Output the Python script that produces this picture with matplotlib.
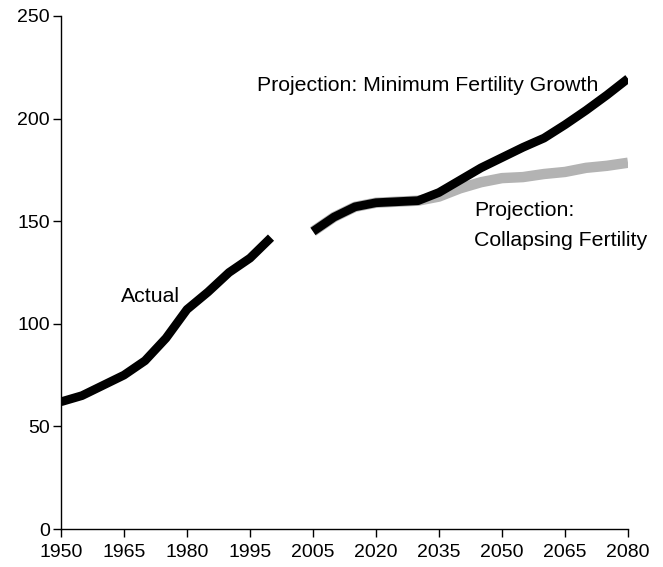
import numpy as np
import matplotlib.pyplot as plt

plt.rcParams["font.family"] = ["Liberation Sans", "DejaVu Sans"]
plt.rcParams["font.size"] = 14

# categorical x axis: 5-year steps, with one empty slot between 2000 and 2005
categories = ["1950", "1955", "1960", "1965", "1970", "1975", "1980", "1985",
              "1990", "1995", "2000", "", "2005", "2010", "2015", "2020",
              "2025", "2030", "2035", "2040", "2045", "2050", "2055", "2060",
              "2065", "2070", "2075", "2080"]

actual = [62, 65, 70, 75, 82, 93, 107, 115.5, 125, 132, 142]
minimum_growth = [145, 152, 157, 159, 159.5, 160, 164, 170, 176, 181, 186,
                  190.5, 197, 204, 211.5, 219.5]
collapsing = [145, 152, 157, 159, 159.5, 160, 162, 166, 169, 171, 171.5,
              173, 174, 176, 177, 178.5]

x = np.arange(len(categories))
n_act = len(actual)
n_proj = len(minimum_growth)
y_act = np.full(len(categories), np.nan)
y_act[:n_act] = actual
y_min = np.full(len(categories), np.nan)
y_min[-n_proj:] = minimum_growth
y_col = np.full(len(categories), np.nan)
y_col[-n_proj:] = collapsing

fig = plt.figure(figsize=(6.63, 5.67), dpi=100)
ax = fig.add_axes([61 / 663, 38 / 567, 567 / 663, 513 / 567])

ax.plot(x, y_col, color="#b3b3b3", lw=7.5, solid_capstyle="butt", zorder=2)
ax.plot(x, y_act, color="black", lw=6.3, solid_capstyle="butt", zorder=3)
ax.plot(x, y_min, color="black", lw=6.3, solid_capstyle="butt", zorder=3)

label_size = 15.3
ax.text(2.86, 113.5, "Actual", va="center", ha="left", fontsize=label_size)
ax.text(9.33, 216, "Projection: Minimum Fertility Growth", va="center",
        ha="left", fontsize=label_size)
ax.text(19.67, 155, "Projection:", va="center", ha="left", fontsize=label_size)
ax.text(19.67, 140.8, "Collapsing Fertility", va="center", ha="left",
        fontsize=label_size)

ax.set_xlim(0, len(categories) - 1)
ax.set_ylim(0, 250)
ax.set_xticks(x[::3])
ax.set_xticklabels(categories[::3])
ax.set_yticks(np.arange(0, 251, 50))

for side in ["top", "right"]:
    ax.spines[side].set_visible(False)
for side in ["left", "bottom"]:
    ax.spines[side].set_linewidth(1)
ax.tick_params(length=6, width=1)
ax.tick_params(axis="x", pad=5)
ax.tick_params(axis="y", pad=2)

fig.savefig("out.png", dpi=100)
